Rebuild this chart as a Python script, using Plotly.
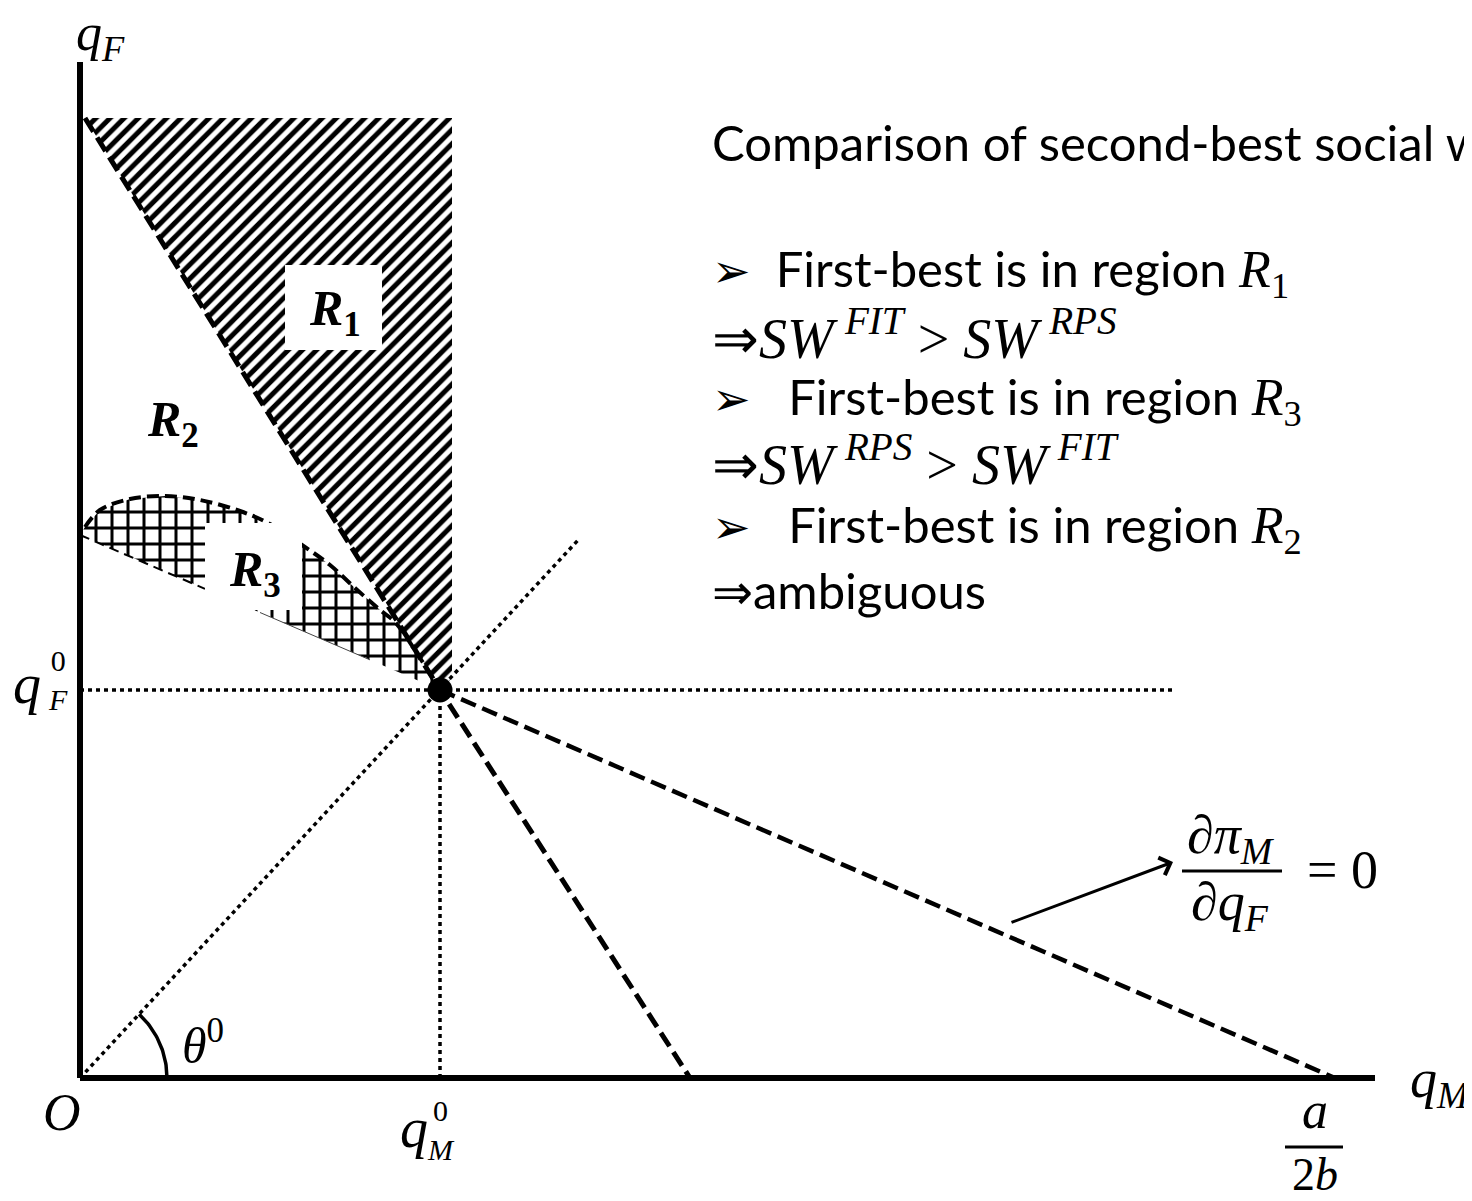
import numpy as np
import plotly.graph_objects as go

# page body has an 8px margin: draw a slightly smaller figure so the diagram lands in place
W, H = 1464, 1193

# ---- diagram values (data units) ----
q_m0 = 360            # q_M^0
q_f0 = 388            # q_F^0
a_over_2b = 1255      # a/(2b) intercept on q_M axis
y_axis_top = 1016
x_axis_right = 1295

steep_x = [5, 360, 610]
steep_y = [960, 388, 0]
shallow_x = [360, 1255]
shallow_y = [388, 0]
ray_x = [0, 360, 500]
ray_y = [0, 388, 540]
hline_x = [0, 1095]

r1_x = [5, 372, 372, 360, 5]
r1_y = [960, 960, 400, 388, 960]

r3_top_x = [5, 20, 50, 85, 120, 160, 190, 222, 250, 275, 300, 315, 340, 360]
r3_top_y = [551, 568, 579, 582, 578, 567, 554, 533, 513, 490, 468, 456, 420, 388]
r3_low_x = [0, 360]
r3_low_y = [543, 388]
r3_low_dash_x = [0, 125]
r3_low_thin_x = [180, 290]

MATH = "Liberation Serif"
TXT = "Lato"

fig = go.Figure()

# R3 cross-hatched region
fig.add_trace(go.Scatter(
    x=r3_top_x + r3_low_x[::-1][1:], y=r3_top_y + r3_low_y[::-1][1:],
    fill="toself", mode="none", fillcolor="white",
    fillpattern=dict(shape="+", size=16, solidity=0.34, fgcolor="black", bgcolor="white", fillmode="replace"),
    hoverinfo="skip"))

# R1 hatched region
fig.add_trace(go.Scatter(
    x=r1_x, y=r1_y, fill="toself", mode="none", fillcolor="white",
    fillpattern=dict(shape="/", size=10, solidity=0.5, fgcolor="black", bgcolor="white", fillmode="replace"),
    hoverinfo="skip"))

def lower_y(xs):
    return list(np.interp(xs, r3_low_x, r3_low_y))

# R3 boundaries
fig.add_trace(go.Scatter(x=r3_top_x, y=r3_top_y, mode="lines", line_shape="spline",
                         line=dict(color="black", width=4, dash="12px,6px"), hoverinfo="skip"))
fig.add_trace(go.Scatter(x=r3_low_dash_x, y=lower_y(r3_low_dash_x), mode="lines",
                         line=dict(color="black", width=2, dash="10px,6px"), hoverinfo="skip"))
fig.add_trace(go.Scatter(x=r3_low_thin_x, y=lower_y(r3_low_thin_x), mode="lines",
                         line=dict(color="#444", width=1), hoverinfo="skip"))

# dotted guide lines
dot = dict(color="black", width=3.5, dash="4px,4px")
fig.add_trace(go.Scatter(x=hline_x, y=[q_f0, q_f0], mode="lines", line=dot, hoverinfo="skip"))
fig.add_trace(go.Scatter(x=[q_m0, q_m0], y=[0, q_f0], mode="lines", line=dot, hoverinfo="skip"))
fig.add_trace(go.Scatter(x=ray_x, y=ray_y, mode="lines", line=dot, hoverinfo="skip"))

# dashed reaction lines
fig.add_trace(go.Scatter(x=steep_x, y=steep_y, mode="lines",
                         line=dict(color="black", width=5, dash="16px,7px"), hoverinfo="skip"))
fig.add_trace(go.Scatter(x=shallow_x, y=shallow_y, mode="lines",
                         line=dict(color="black", width=4.5, dash="16px,7px"), hoverinfo="skip"))

# theta arc
theta0 = np.arctan2(q_f0, q_m0)
t = np.linspace(0, theta0, 40)
fig.add_trace(go.Scatter(x=87 * np.cos(t), y=87 * np.sin(t), mode="lines",
                         line=dict(color="black", width=3.5), hoverinfo="skip"))

# axes
fig.add_trace(go.Scatter(x=[0, 0], y=[0, y_axis_top], mode="lines",
                         line=dict(color="black", width=6), hoverinfo="skip"))
fig.add_trace(go.Scatter(x=[0, x_axis_right], y=[0, 0], mode="lines",
                         line=dict(color="black", width=6), hoverinfo="skip"))

# equilibrium point
fig.add_trace(go.Scatter(x=[q_m0], y=[q_f0], mode="markers",
                         marker=dict(color="black", size=25), hoverinfo="skip"))

shapes = [
    dict(type="rect", xref="x", yref="y", x0=205, x1=302, y0=728, y1=813,
         fillcolor="white", line=dict(width=0), layer="above"),
    dict(type="rect", xref="x", yref="y", x0=125, x1=222, y0=468, y1=555,
         fillcolor="white", line=dict(width=0), layer="above"),
    # fraction bars
    dict(type="line", xref="x", yref="y", x0=1205, x1=1263, y0=-69, y1=-69,
         line=dict(color="black", width=3), layer="above"),
    dict(type="line", xref="x", yref="y", x0=1102, x1=1202, y0=207, y1=207,
         line=dict(color="black", width=3), layer="above"),
]

def ann(x, y, text, size, family=MATH, xanchor="center", yanchor="middle"):
    return dict(x=x, y=y, xref="x", yref="y", text=text, showarrow=False,
                font=dict(family=family, size=size, color="black"),
                xanchor=xanchor, yanchor=yanchor)

def m(s, size=52):
    return f"<span style='font-family:{MATH};font-size:{size}px'>{s}</span>"

def bullet():
    return "<span style='font-family:DejaVu Sans;font-size:46px'>➢</span>"

TS = "\u2009"  # thin space before superscripts (italic correction)

annotations = [
    ann(20, 1042, "<i>q</i><sub><i>F</i></sub>", 52),
    ann(-53, 394, "<i>q</i>", 56),
    ann(-22, 398, "0<br><i>F</i>", 30),
    ann(-18, -34, "<i>O</i>", 52),
    ann(334, -50, "<i>q</i>", 56),
    ann(361, -52, "0<br><i>M</i>", 30),
    ann(1235, -32, "<i>a</i>", 52),
    ann(1235, -96, "2<i>b</i>", 46),
    ann(1360, -4, "<i>q</i><sub><i>M</i></sub>", 54),
    ann(123, 36, "<i>θ</i><sup>0</sup>", 50),
    ann(255, 766, "<b><i>R</i></b><sub><b>1</b></sub>", 50),
    ann(93, 655, "<b><i>R</i></b><sub><b>2</b></sub>", 50),
    ann(175, 505, "<b><i>R</i></b><sub><b>3</b></sub>", 50),
    ann(1151, 240, "∂<i>π</i><sub><i>M</i></sub>", 54),
    ann(1150, 173, "∂<i>q</i><sub><i>F</i></sub>", 54),
    ann(1262, 208, "=\u00a00", 54),
    # arrow to the label
    dict(x=1093, y=216, ax=930, ay=155, xref="x", yref="y", axref="x", ayref="y",
         text="", showarrow=True, arrowhead=4, arrowsize=1.2, arrowwidth=3, arrowcolor="black"),
    # text block
    ann(630, 936, "Comparison of second-best social welfare", 49, TXT, "left"),
    ann(630, 806, bullet() + "\u00a0\u00a0First-best is in region " + m("<i>R</i><sub>1</sub>"), 49, TXT, "left"),
    ann(630, 744, m(f"⇒<i>SW</i>{TS}<sup><i>FIT</i></sup> &gt; <i>SW</i>{TS}<sup><i>RPS</i></sup>", 56), 49, TXT, "left"),
    ann(630, 678, bullet() + "\u00a0\u00a0\u00a0First-best is in region " + m("<i>R</i><sub>3</sub>"), 49, TXT, "left"),
    ann(630, 618, m(f"⇒<i>SW</i>{TS}<sup><i>RPS</i></sup> &gt; <i>SW</i>{TS}<sup><i>FIT</i></sup>", 56), 49, TXT, "left"),
    ann(630, 550, bullet() + "\u00a0\u00a0\u00a0First-best is in region " + m("<i>R</i><sub>2</sub>"), 49, TXT, "left"),
    ann(630, 488, "⇒ambiguous", 49, TXT, "left"),
]

fig.update_layout(
    width=W, height=H, margin=dict(l=0, r=0, t=0, b=0),
    paper_bgcolor="white", plot_bgcolor="white", showlegend=False,
    xaxis=dict(range=[-72, W - 72], visible=False, fixedrange=True),
    yaxis=dict(range=[1070 - H, 1070], visible=False, fixedrange=True),
    shapes=shapes, annotations=annotations,
)

fig.write_html("out.html")
